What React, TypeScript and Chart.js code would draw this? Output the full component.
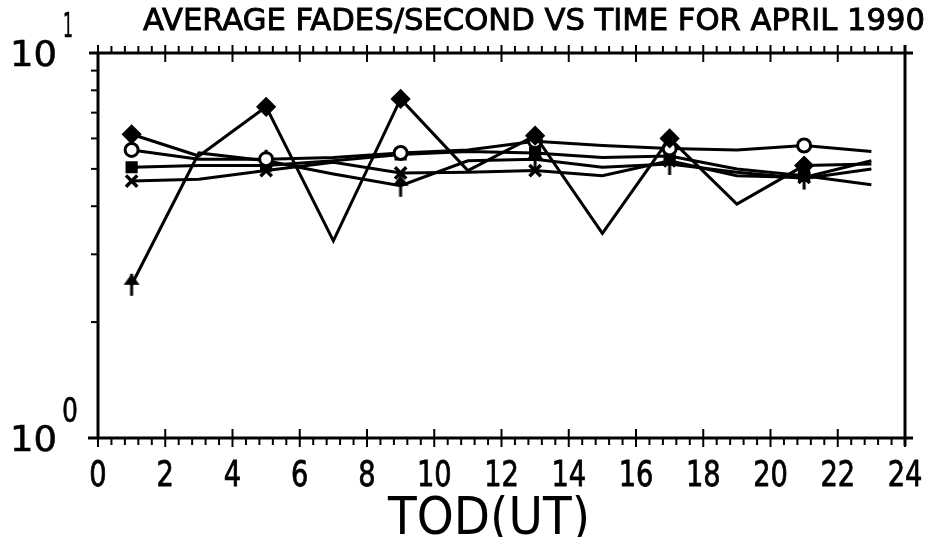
import React, { useEffect, useRef } from "react";
import { Chart, registerables } from "chart.js";

Chart.register(...registerables);

const TITLE = "AVERAGE FADES/SECOND VS TIME FOR APRIL 1990";
const X_TITLE = "TOD(UT)";
const HOURS = [1, 3, 5, 7, 9, 11, 13, 15, 17, 19, 21, 23];
const MARKER_HOURS = [1, 5, 9, 13, 17, 21];
const X_TICKS = [0, 2, 4, 6, 8, 10, 12, 14, 16, 18, 20, 22, 24];
const Y_DECADES = [1, 10];
const Y_EXPONENTS = ["0", "1"];
const Y_MINOR = [2, 3, 4, 5, 6, 7, 8, 9];

const ZIGZAG = [6.15, 5.4, 7.25, 3.25, 7.6, 4.95, 6.1, 3.4, 6.0, 4.05, 5.1, 5.15];
const CIRCLE = [5.6, 5.3, 5.3, 5.35, 5.5, 5.6, 5.9, 5.75, 5.65, 5.6, 5.75, 5.55];
const SQUARE = [5.05, 5.1, 5.1, 5.25, 5.45, 5.55, 5.5, 5.35, 5.4, 5.0, 4.8, 4.55];
const CROSS = [4.65, 4.7, 4.95, 5.2, 4.88, 4.9, 4.95, 4.8, 5.25, 4.8, 4.75, 5.25];
const ARROW = [2.5, 5.5, 5.25, 4.85, 4.52, 5.25, 5.3, 5.05, 5.15, 4.9, 4.72, 5.0];

function makeArrowMarker(): HTMLCanvasElement {
  const c = document.createElement("canvas");
  c.width = 18;
  c.height = 24;
  const g = c.getContext("2d")!;
  g.fillStyle = "#000";
  g.beginPath();
  g.moveTo(9, 1);
  g.lineTo(1, 12);
  g.lineTo(17, 12);
  g.closePath();
  g.fill();
  g.fillRect(7.5, 1, 3, 22);
  return c;
}

function fitText(
  ctx: CanvasRenderingContext2D,
  text: string,
  left: number,
  baseline: number,
  size: number,
  width: number,
  stroke = 0
) {
  ctx.save();
  ctx.font = `${size}px "DejaVu Sans"`;
  ctx.textAlign = "left";
  ctx.textBaseline = "alphabetic";
  const w = ctx.measureText(text).width;
  ctx.translate(left, baseline);
  ctx.scale(width / w, 1);
  ctx.fillText(text, 0, 0);
  if (stroke > 0) {
    ctx.lineWidth = stroke;
    ctx.strokeText(text, 0, 0);
  }
  ctx.restore();
}

function centerText(
  ctx: CanvasRenderingContext2D,
  text: string,
  cx: number,
  baseline: number,
  size: number,
  sx: number
) {
  ctx.save();
  ctx.font = `${size}px "DejaVu Sans"`;
  ctx.textAlign = "center";
  ctx.textBaseline = "alphabetic";
  ctx.translate(cx, baseline);
  ctx.scale(sx, 1);
  ctx.fillText(text, 0, 0);
  ctx.lineWidth = 0.8;
  ctx.strokeText(text, 0, 0);
  ctx.restore();
}

const decorPlugin = {
  id: "decor",
  afterDraw(chart: any) {
    const { ctx, chartArea: a, scales } = chart;
    const x = scales.x;
    const y = scales.y;
    ctx.save();
    ctx.strokeStyle = "#000";
    ctx.fillStyle = "#000";
    const line = (x1: number, y1: number, x2: number, y2: number, w: number) => {
      ctx.lineWidth = w;
      ctx.beginPath();
      ctx.moveTo(x1, y1);
      ctx.lineTo(x2, y2);
      ctx.stroke();
    };
    line(a.left - 10, a.bottom, a.right + 8, a.bottom, 3);
    line(a.left - 9, a.top, a.right + 8, a.top, 3);
    line(a.left, a.top, a.left, a.bottom, 3);
    line(a.right, a.top - 8, a.right, a.bottom + 8, 3);
    for (let i = 0; i < X_TICKS.length; i++) {
      const px = x.getPixelForValue(X_TICKS[i]);
      line(px, a.bottom - 9, px, a.bottom + 9, 2);
      line(px, a.top - 8, px, a.top + 9, 2);
      if (i < X_TICKS.length - 1) {
        const step = (X_TICKS[i + 1] - X_TICKS[i]) / 5;
        for (let k = 1; k < 5; k++) {
          const mx = x.getPixelForValue(X_TICKS[i] + k * step);
          line(mx, a.bottom, mx, a.bottom + 7, 2);
          line(mx, a.top - 7, mx, a.top, 2);
        }
      }
      centerText(ctx, String(X_TICKS[i]), px, 486, 35, 0.78);
    }
    for (const v of Y_MINOR) {
      const py = y.getPixelForValue(v);
      line(a.left - 7, py, a.left, py, 2);
    }
    for (let i = 0; i < Y_DECADES.length; i++) {
      const py = y.getPixelForValue(Y_DECADES[i]);
      fitText(ctx, "10", 10, py + 13, 35, 47, 0.6);
      fitText(ctx, Y_EXPONENTS[i], Y_EXPONENTS[i] === "1" ? 63 : 62, py - 16, 34, Y_EXPONENTS[i] === "1" ? 10 : 16, 0.6);
    }
    fitText(ctx, TITLE, 143, 30, 31, 782, 0.9);
    fitText(ctx, X_TITLE, 388, 534, 52, 202);
    ctx.restore();
  },
};

export default function App() {
  const ref = useRef<HTMLCanvasElement | null>(null);
  useEffect(() => {
    if (!ref.current) return;
    const arrow = makeArrowMarker();
    const pts = (vals: number[]) => HOURS.map((h, i) => ({ x: h, y: vals[i] }));
    const radius = (r: number) => HOURS.map((h) => (MARKER_HOURS.includes(h) ? r : 0));
    const base = {
      borderColor: "#000",
      borderWidth: 3,
      tension: 0,
      pointBorderColor: "#000",
      pointBackgroundColor: "#000",
      fill: false,
    };
    const chart = new Chart(ref.current, {
      type: "line",
      data: {
        datasets: [
          { ...base, label: "A", data: pts(ZIGZAG), pointStyle: "rectRot", pointRadius: radius(8) },
          {
            ...base,
            label: "B",
            data: pts(CIRCLE),
            pointStyle: "circle",
            pointRadius: radius(6.5),
            pointBackgroundColor: "#fff",
            pointBorderWidth: 3,
          },
          { ...base, label: "C", data: pts(SQUARE), pointStyle: "rect", pointRadius: radius(6.5) },
          {
            ...base,
            label: "D",
            data: pts(CROSS),
            pointStyle: "crossRot",
            pointRadius: radius(8),
            pointBorderWidth: 3.5,
          },
          { ...base, label: "E", data: pts(ARROW), pointStyle: arrow as any, pointRadius: radius(9) },
        ],
      },
      options: {
        responsive: false,
        animation: false,
        layout: { padding: { left: 98, right: 25, top: 53, bottom: 99 } },
        plugins: { legend: { display: false }, tooltip: { enabled: false }, title: { display: false } },
        scales: {
          x: { type: "linear", min: 0, max: 24, display: false },
          y: { type: "logarithmic", min: 1, max: 10, display: false },
        },
      },
      plugins: [decorPlugin],
    });
    return () => chart.destroy();
  }, []);
  return (
    <div style={{ position: "absolute", left: 0, top: 0, width: 930, height: 537, background: "#fff" }}>
      <canvas ref={ref} width={930} height={537} />
    </div>
  );
}
